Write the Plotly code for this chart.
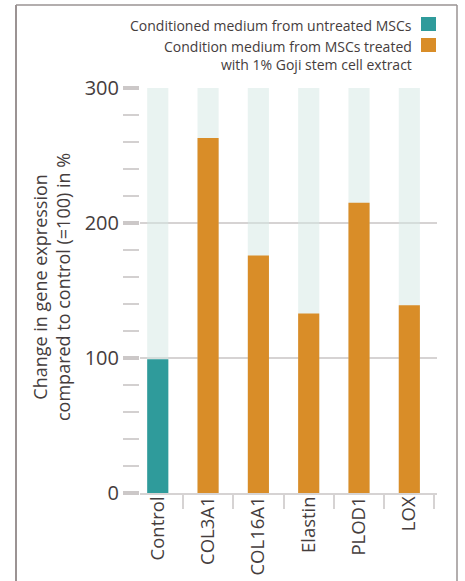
import plotly.graph_objects as go

categories = ["Control", "COL3A1", "COL16A1", "Elastin", "PLOD1", "LOX"]
values = [99, 263, 176, 133, 215, 139]
background = [300, 300, 300, 300, 300, 300]
y_ticks = [0, 100, 200, 300]

TEAL = "#2f9b9b"
ORANGE = "#d98d28"
TEXT = "#453d3d"
FONT = "Open Sans"

W, H = 465, 581
L, R, T, B = 140, 28, 88, 88
PW, PH = W - L - R, H - T - B


def px(x):
    return (x - L) / PW


def py(y):
    return (H - B - y) / PH


bar_colors = [TEAL] + [ORANGE] * (len(categories) - 1)

fig = go.Figure()
fig.add_trace(go.Bar(x=categories, y=background, width=0.42,
                     marker=dict(color="rgba(212,231,227,0.5)", line=dict(width=0)),
                     hoverinfo="skip", showlegend=False))
fig.add_trace(go.Bar(x=categories, y=values, width=0.42,
                     marker=dict(color=bar_colors, line=dict(width=0)),
                     showlegend=False))

fig.update_layout(
    width=W, height=H,
    margin=dict(l=L, r=R, t=T, b=B, autoexpand=False),
    paper_bgcolor="white", plot_bgcolor="white",
    barmode="overlay",
    font=dict(family=FONT, color=TEXT),
    xaxis=dict(
        range=[-0.353, 5.55],
        automargin=False,
        showline=True, linecolor="#d6d3d3", linewidth=2,
        showgrid=False,
        ticks="outside", tickson="boundaries", ticklen=14, tickwidth=1.5,
        tickcolor="#d6d3d3",
        tickangle=-90, tickfont=dict(size=18.5, color=TEXT, family=FONT),
        ticklabelstandoff=-6,
    ),
    yaxis=dict(
        range=[0, 300],
        automargin=False,
        tickvals=y_ticks,
        showgrid=True, gridcolor="#d6d3d3", gridwidth=2,
        zeroline=False, showline=False,
        ticks="outside", ticklen=16, tickwidth=4, tickcolor="#ccc8c8",
        tickfont=dict(size=20, color=TEXT, family=FONT),
        minor=dict(dtick=20, ticks="outside", ticklen=16, tickwidth=1.5,
                   tickcolor="#d3d0d0", showgrid=False),
    ),
)

annotations = [
    dict(text="Change in gene expression<br>compared to control (=100) in %",
         x=px(51), y=py(287), xref="paper", yref="paper", textangle=-90,
         showarrow=False, font=dict(size=18, color=TEXT, family=FONT),
         align="center", xanchor="center", yanchor="middle"),
    dict(text="Conditioned medium from untreated MSCs",
         x=px(414), y=py(25), xref="paper", yref="paper", showarrow=False,
         xanchor="right", yanchor="middle", font=dict(size=14, color=TEXT, family=FONT)),
    dict(text="Condition medium from MSCs treated<br>with 1% Goji stem cell extract",
         x=px(414), y=py(55), xref="paper", yref="paper", showarrow=False,
         align="right", xanchor="right", yanchor="middle",
         font=dict(size=14, color=TEXT, family=FONT)),
]
fig.update_layout(annotations=annotations)

shapes = [
    dict(type="rect", xref="paper", yref="paper", x0=px(421), x1=px(436), y0=py(17), y1=py(31),
         fillcolor=TEAL, line=dict(width=0)),
    dict(type="rect", xref="paper", yref="paper", x0=px(421), x1=px(436), y0=py(38), y1=py(52),
         fillcolor=ORANGE, line=dict(width=0)),
    dict(type="line", xref="paper", yref="paper", x0=px(16), x1=px(16), y0=py(5), y1=py(590),
         line=dict(color="#7a6f6f", width=1.5)),
    dict(type="line", xref="paper", yref="paper", x0=px(16), x1=px(457), y0=py(5), y1=py(5),
         line=dict(color="#9a9393", width=1.5)),
    dict(type="line", xref="paper", yref="paper", x0=px(457), x1=px(457), y0=py(5), y1=py(590),
         line=dict(color="#9a9393", width=1.5)),
]
fig.update_layout(shapes=shapes)

fig.write_html("out.html")
